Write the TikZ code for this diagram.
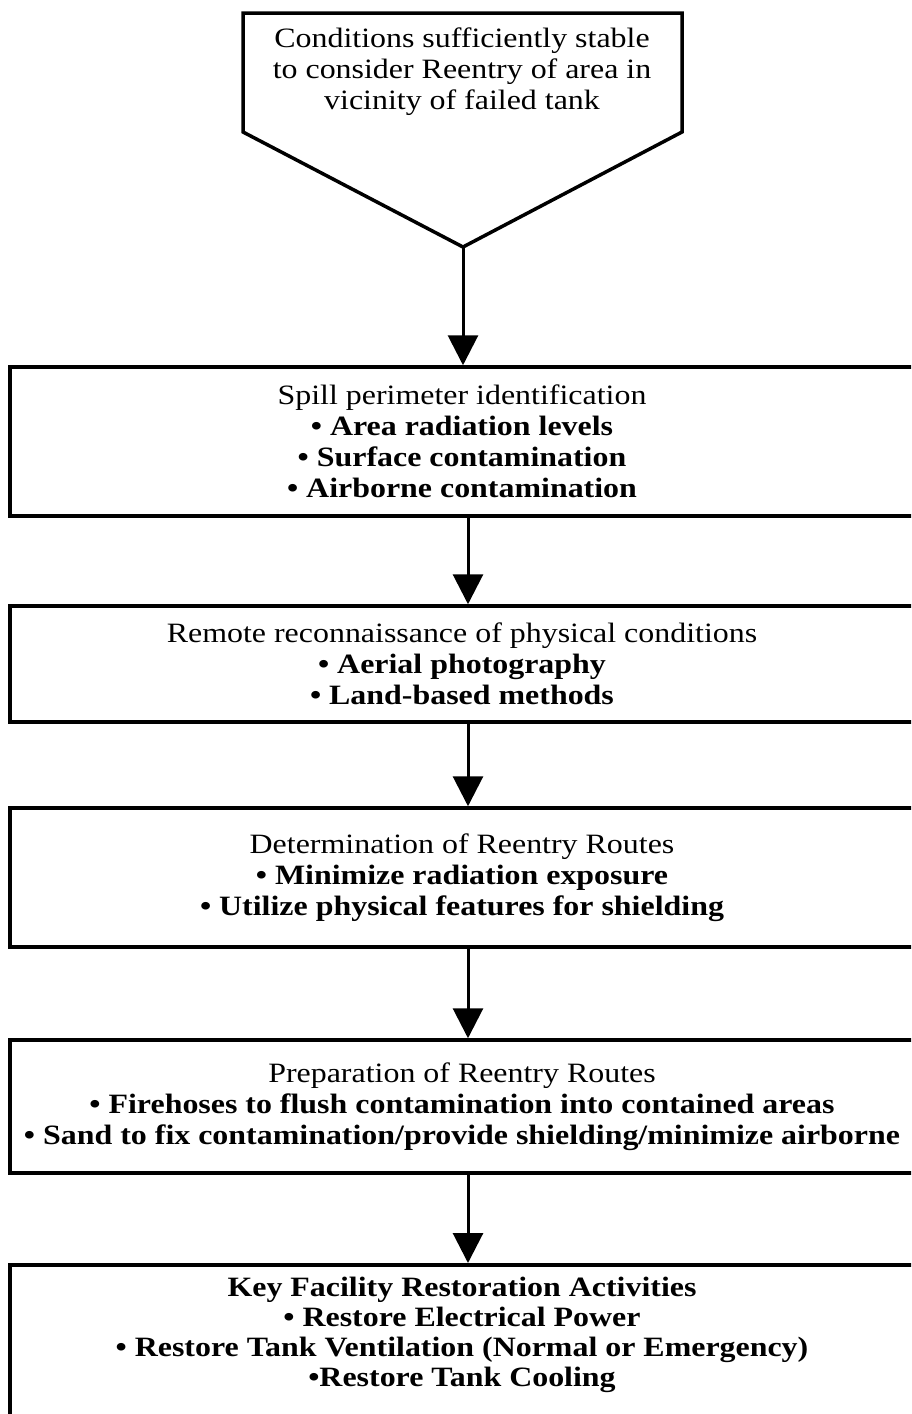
\documentclass[tikz,border=0pt]{standalone}
\usepackage{fontspec}
\setmainfont[FakeStretch=1.14]{Liberation Serif}
\usetikzlibrary{arrows.meta}
\begin{document}
\begin{tikzpicture}[x=1pt,y=-1pt,
  boxst/.style={draw, line width=3.5pt, rectangle, inner sep=0pt, minimum width=904pt, align=center, font=\fontsize{28}{31}\selectfont},
  txt/.style={align=center, font=\fontsize{28}{31}\selectfont, inner sep=0pt},
  pent/.style={draw, line width=3.5pt, line join=miter},
  flow/.style={line width=3pt, -{Triangle[width=30pt,length=30pt]}}]
\useasboundingbox (0,0) rectangle (911,1414);
\clip (0,0) rectangle (911,1414);
% start pentagon
\coordinate (pA) at (243,13);
\coordinate (pB) at (682,13);
\coordinate (pC) at (682,132);
\coordinate (tip) at (463,247);
\coordinate (pE) at (243,132);
\draw[pent] (pA) -- (pB) -- (pC) -- (tip) -- (pE) -- cycle;
\node[txt] (start) at (462,72) {Conditions sufficiently stable\\to consider Reentry of area in\\vicinity of failed tank};
% boxes
\node[boxst, minimum height=149pt] (b1) at (462,441.5) {Spill perimeter identification\\\textbf{• Area radiation levels}\\\textbf{• Surface contamination}\\\textbf{• Airborne contamination}};
\node[boxst, minimum height=116pt] (b2) at (462,664) {Remote reconnaissance of physical conditions\\\textbf{• Aerial photography}\\\textbf{• Land-based methods}};
\node[boxst, minimum height=139pt] (b3) at (462,877.5) {Determination of Reentry Routes\\\textbf{• Minimize radiation exposure}\\\textbf{• Utilize physical features for shielding}};
\node[boxst, minimum height=133pt] (b4) at (462,1106.5) {Preparation of Reentry Routes\\\textbf{• Firehoses to flush contamination into contained areas}\\\textbf{• Sand to fix contamination/provide shielding/minimize airborne}};
\node[boxst, minimum height=180pt, anchor=north] (b5) at (462,1263) {};
\node[txt, font=\fontsize{28}{30}\selectfont\bfseries] (b5t) at (462,1335) {Key Facility Restoration Activities\\• Restore Electrical Power\\• Restore Tank Ventilation (Normal or Emergency)\\•Restore Tank Cooling};
% connectors
\coordinate (ax) at (468,0);
\draw[flow] (tip) -- (tip |- b1.north);
\draw[flow] (b1.south -| ax) -- (b2.north -| ax);
\draw[flow] (b2.south -| ax) -- (b3.north -| ax);
\draw[flow] (b3.south -| ax) -- (b4.north -| ax);
\draw[flow] (b4.south -| ax) -- (b5.north -| ax);
\end{tikzpicture}
\end{document}
